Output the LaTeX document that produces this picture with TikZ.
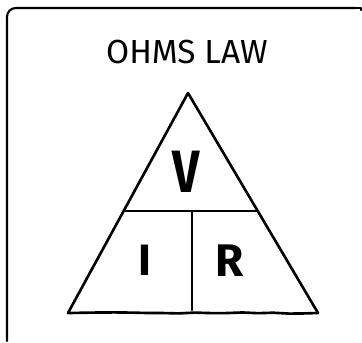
\documentclass[tikz,border=0pt]{standalone}
\usepackage{fontspec}
\setmainfont{Fira Sans}
\usepackage{tikz}
\usetikzlibrary{decorations.pathmorphing}

\begin{document}
\begin{tikzpicture}[x=0.02cm, y=-0.02cm,
            line width=1.5pt, line cap=round, line join=round,
            wobble/.style={decorate, decoration={random steps, segment length=9pt, amplitude=0.35pt}},
            every node/.style={inner sep=0pt}]
        \useasboundingbox (0,0) rectangle (362,342);

        % Cornice
        \draw[line width=1.2pt, rounded corners=5pt] (7,341) -- (7,8) -- (355,8);
        \draw[line width=1.2pt] (355,8) -- (361,8) -- (361,10);

        % Vertici del triangolo
        \coordinate (T) at (188,93);
        \coordinate (BL) at (68,313);
        \coordinate (BR) at (318,313);
        \coordinate (ML) at (124,211);
        \coordinate (MR) at (257,211);
        \coordinate (MT) at (192,211);
        \coordinate (MB) at (192,310);

        % Lati
        \draw (BL) -- (T) -- (BR);
        \draw[wobble] (BL) -- (BR);
        \draw (ML) -- (MR);
        \draw (MT) -- (MB);

        % Testi
        \node (title) at (187,52) {\fontsize{19}{19}\selectfont OHMS LAW};
        \node[xscale=0.8] (volt) at (186,172) {\fontsize{34}{34}\selectfont\bfseries V};
        \node (curr) at (145,260) {\fontsize{25}{25}\selectfont\bfseries I};
        \node (res) at (230,261) {\fontsize{26}{26}\selectfont\bfseries R};
    \end{tikzpicture}
\end{document}
